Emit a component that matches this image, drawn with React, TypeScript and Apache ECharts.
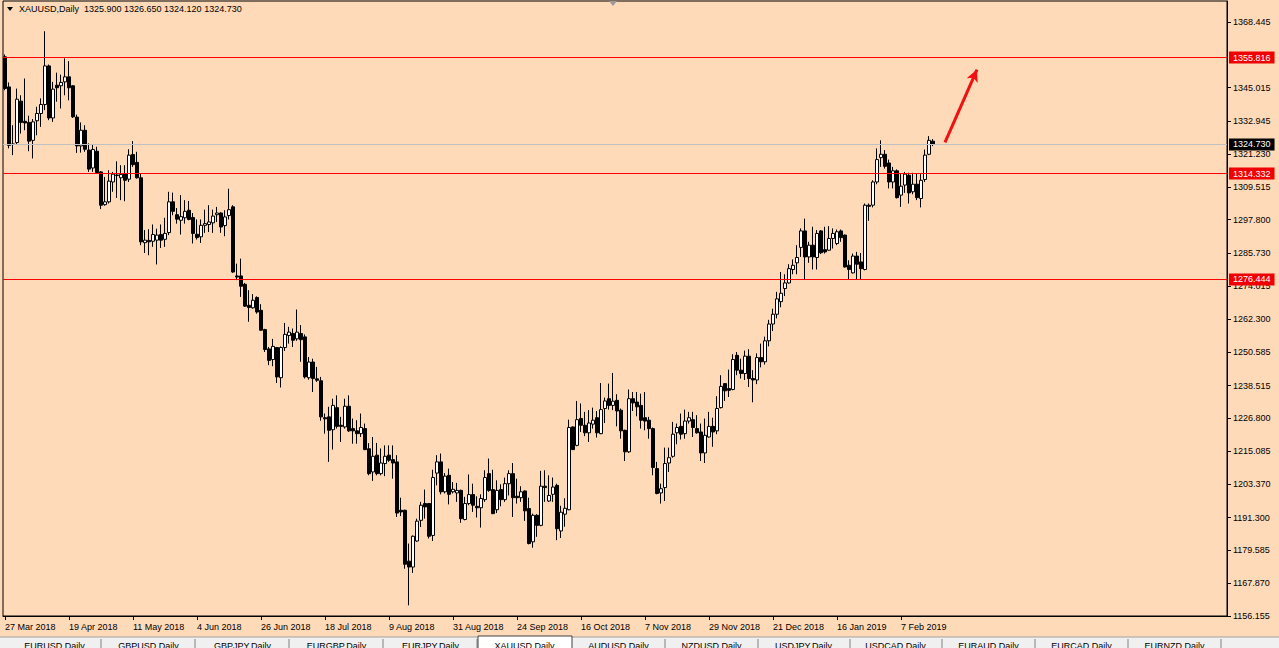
import React, { useEffect, useRef } from "react";
import * as echarts from "echarts";

const SYMBOL = "XAUUSD,Daily";
const FIRST_DATE = "2018-03-27";
const HOLIDAYS = ["2018-03-30", "2018-12-25", "2019-01-01"];
const TICK_LABELS = [
  "27 Mar 2018", "19 Apr 2018", "11 May 2018", "4 Jun 2018", "26 Jun 2018",
  "18 Jul 2018", "9 Aug 2018", "31 Aug 2018", "24 Sep 2018", "16 Oct 2018",
  "7 Nov 2018", "29 Nov 2018", "21 Dec 2018", "16 Jan 2019", "7 Feb 2019",
];
const LABEL_EVERY = 16;
const Y_MIN = 1156.085;
const Y_MAX = 1376.022;
const Y_TICKS = [
  1368.445, 1345.015, 1332.945, 1321.23, 1309.515, 1297.8, 1285.73, 1274.015,
  1262.3, 1250.585, 1238.515, 1226.8, 1215.085, 1203.37, 1191.3, 1179.585,
  1167.87, 1156.155,
];
const LEVELS = [1355.816, 1314.332, 1276.444];
const CURRENT_PRICE = 1324.73;
const ARROW = [
  [235, 1325.5],
  [243, 1351.5],
];
const TABS = [
  "EURUSD,Daily", "GBPUSD,Daily", "GBPJPY,Daily", "EURGBP,Daily", "EURJPY,Daily",
  "XAUUSD,Daily", "AUDUSD,Daily", "NZDUSD,Daily", "USDJPY,Daily", "USDCAD,Daily",
  "EURAUD,Daily", "EURCAD,Daily", "EURNZD,Daily",
];
const ACTIVE_TAB = 5;

const OPEN = [
  1356.05, 1345.3, 1324.9, 1325.4, 1340.2, 1333.0, 1332.6, 1326.2, 1333.2, 1335.8,
  1339.0, 1352.8, 1334.2, 1345.9, 1345.7, 1347.1, 1348.9, 1345.7, 1334.5, 1324.2,
  1329.8, 1322.7, 1316.3, 1322.3, 1314.9, 1303.2, 1304.2, 1311.3, 1313.6, 1312.8,
  1314.3, 1312.3, 1321.1, 1318.3, 1312.8, 1289.6, 1290.4, 1290.1, 1290.5, 1292.5,
  1290.8, 1293.2, 1304.2, 1299.6, 1297.6, 1298.5, 1301.2, 1298.6, 1292.6, 1291.7,
  1295.8, 1296.1, 1296.7, 1299.6, 1300.2, 1295.7, 1299.3, 1302.4, 1277.7, 1277.7,
  1274.7, 1267.2, 1266.3, 1270.0, 1265.4, 1258.5, 1251.6, 1247.8, 1252.1, 1241.3,
  1252.1, 1256.4, 1257.1, 1255.2, 1257.1, 1255.9, 1241.3, 1246.9, 1240.9, 1240.2,
  1227.0, 1227.3, 1222.7, 1230.6, 1224.3, 1223.7, 1231.1, 1223.1, 1222.3, 1221.3,
  1223.1, 1215.9, 1207.6, 1213.6, 1207.0, 1210.6, 1213.6, 1212.0, 1211.2, 1193.9,
  1193.9, 1175.7, 1173.6, 1182.9, 1190.3, 1196.3, 1196.3, 1184.9, 1207.2, 1211.2,
  1200.5, 1206.4, 1200.5, 1200.1, 1201.0, 1190.6, 1196.3, 1199.5, 1195.3, 1194.8,
  1197.7, 1207.0, 1201.3, 1194.1, 1201.3, 1197.7, 1203.4, 1207.0, 1198.9, 1198.4,
  1200.8, 1194.5, 1182.6, 1192.1, 1188.5, 1202.5, 1197.2, 1199.6, 1202.8, 1186.5,
  1192.5, 1194.1, 1223.7, 1217.1, 1226.7, 1224.3, 1221.6, 1224.7, 1227.0, 1221.3,
  1230.3, 1233.8, 1231.4, 1233.2, 1229.7, 1222.5, 1214.8, 1233.8, 1232.6, 1231.4,
  1227.0, 1226.1, 1223.1, 1208.8, 1200.1, 1202.0, 1210.8, 1213.2, 1221.6, 1223.9,
  1221.3, 1225.8, 1226.3, 1223.1, 1221.9, 1214.4, 1220.1, 1223.9, 1222.3, 1230.6,
  1239.2, 1237.4, 1237.1, 1249.3, 1244.0, 1242.8, 1249.0, 1241.0, 1240.5, 1248.5,
  1247.0, 1254.5, 1260.5, 1264.0, 1268.5, 1273.2, 1275.2, 1280.0, 1282.4, 1287.9,
  1293.8, 1284.5, 1288.7, 1284.3, 1293.8, 1287.1, 1286.9, 1291.1, 1289.3, 1293.8,
  1292.3, 1281.5, 1278.8, 1284.8, 1282.7, 1280.0, 1303.0, 1303.0, 1311.3, 1320.0,
  1321.2, 1318.1, 1311.3, 1315.3, 1306.6, 1310.2, 1313.7, 1307.8, 1310.5, 1305.4,
  1312.2, 1321.2, 1325.9,
];
const CLOSE = [
  1344.73, 1324.4, 1324.7, 1340.9, 1332.6, 1332.4, 1325.9, 1332.8, 1335.8, 1339.0,
  1352.8, 1334.2, 1344.5, 1345.0, 1346.9, 1348.9, 1345.0, 1334.6, 1324.2, 1329.8,
  1323.0, 1315.9, 1322.9, 1314.7, 1303.0, 1304.2, 1311.6, 1314.1, 1313.8, 1314.0,
  1311.9, 1320.9, 1317.5, 1312.8, 1289.9, 1290.5, 1289.9, 1292.5, 1292.3, 1290.5,
  1292.9, 1304.2, 1300.8, 1298.0, 1298.9, 1300.8, 1297.9, 1292.9, 1291.4, 1295.8,
  1296.4, 1297.0, 1299.1, 1300.2, 1295.2, 1298.8, 1301.4, 1279.1, 1277.3, 1274.0,
  1266.9, 1266.4, 1269.0, 1264.8, 1258.3, 1251.4, 1247.5, 1252.5, 1241.6, 1252.1,
  1256.8, 1257.6, 1254.7, 1257.6, 1254.9, 1241.6, 1246.9, 1241.0, 1240.4, 1227.3,
  1226.6, 1222.5, 1231.4, 1223.9, 1223.9, 1231.1, 1222.3, 1222.3, 1221.3, 1223.5,
  1215.6, 1207.0, 1213.2, 1207.0, 1210.8, 1213.2, 1211.8, 1210.8, 1192.9, 1193.3,
  1174.6, 1173.6, 1184.6, 1190.0, 1195.7, 1195.1, 1184.6, 1205.6, 1211.2, 1200.5,
  1206.1, 1199.6, 1201.4, 1201.0, 1190.9, 1196.3, 1199.5, 1195.7, 1194.8, 1198.1,
  1205.6, 1201.0, 1192.7, 1201.0, 1197.7, 1203.4, 1207.0, 1198.4, 1198.4, 1200.5,
  1193.7, 1182.0, 1192.1, 1188.5, 1202.5, 1202.0, 1199.2, 1202.2, 1187.3, 1193.2,
  1194.6, 1223.5, 1215.6, 1226.3, 1224.3, 1221.6, 1225.1, 1226.1, 1221.6, 1229.9,
  1233.0, 1231.4, 1232.9, 1229.4, 1222.3, 1214.8, 1233.8, 1232.3, 1230.9, 1226.1,
  1225.8, 1223.1, 1209.2, 1199.9, 1201.6, 1210.6, 1212.7, 1221.1, 1223.5, 1221.1,
  1225.8, 1227.0, 1223.5, 1221.6, 1214.4, 1220.7, 1223.9, 1221.9, 1230.3, 1238.2,
  1236.6, 1236.8, 1247.8, 1244.0, 1242.8, 1249.0, 1241.0, 1240.5, 1248.5, 1247.0,
  1254.5, 1260.5, 1264.0, 1269.5, 1271.5, 1275.2, 1280.3, 1281.5, 1284.3, 1293.8,
  1284.5, 1288.7, 1284.5, 1292.9, 1286.0, 1286.3, 1291.1, 1292.9, 1293.5, 1291.4,
  1280.9, 1280.0, 1284.8, 1281.9, 1280.3, 1303.0, 1302.6, 1311.3, 1319.3, 1321.2,
  1316.9, 1311.3, 1315.3, 1305.7, 1309.8, 1314.1, 1307.4, 1310.5, 1305.7, 1311.9,
  1320.9, 1326.2, 1324.73,
];
const HIGH = [
  1356.9, 1346.9, 1331.6, 1344.7, 1342.3, 1348.3, 1335.0, 1333.8, 1338.2, 1341.2,
  1365.2, 1353.3, 1347.1, 1350.4, 1349.7, 1355.5, 1354.5, 1345.9, 1335.4, 1332.6,
  1331.6, 1325.1, 1324.7, 1323.9, 1315.2, 1313.1, 1315.5, 1314.9, 1318.7, 1317.3,
  1317.3, 1323.0, 1325.9, 1322.1, 1314.3, 1294.1, 1294.4, 1296.1, 1294.6, 1296.1,
  1298.5, 1307.8, 1307.5, 1302.0, 1306.6, 1304.8, 1304.5, 1300.2, 1297.9, 1297.9,
  1301.4, 1303.0, 1301.4, 1302.4, 1300.5, 1301.2, 1308.9, 1303.0, 1282.1, 1283.9,
  1275.2, 1272.6, 1271.2, 1270.4, 1267.6, 1258.8, 1252.3, 1255.2, 1252.3, 1252.5,
  1260.9, 1259.5, 1258.9, 1265.7, 1260.1, 1256.8, 1248.7, 1248.1, 1245.2, 1241.6,
  1228.5, 1230.9, 1233.8, 1235.0, 1227.3, 1233.8, 1235.0, 1226.7, 1226.1, 1228.5,
  1224.9, 1217.9, 1220.1, 1218.0, 1216.0, 1217.1, 1217.1, 1217.1, 1213.6, 1198.4,
  1194.1, 1182.0, 1184.9, 1190.9, 1196.9, 1201.3, 1196.5, 1208.4, 1213.6, 1214.2,
  1207.2, 1208.8, 1204.0, 1203.7, 1201.3, 1198.7, 1206.7, 1203.4, 1198.9, 1199.6,
  1208.2, 1212.4, 1208.4, 1204.6, 1203.2, 1205.6, 1208.2, 1210.8, 1205.2, 1202.5,
  1201.0, 1198.4, 1192.7, 1192.5, 1208.0, 1208.2, 1206.4, 1205.6, 1203.4, 1195.5,
  1198.2, 1226.3, 1223.9, 1233.0, 1232.1, 1229.1, 1229.7, 1230.6, 1229.4, 1239.4,
  1234.2, 1239.2, 1243.0, 1235.4, 1230.3, 1222.7, 1237.1, 1236.2, 1236.2, 1235.6,
  1236.2, 1227.3, 1223.5, 1211.2, 1203.4, 1216.3, 1216.3, 1225.5, 1224.9, 1228.5,
  1229.9, 1229.1, 1229.1, 1227.9, 1224.9, 1226.7, 1229.1, 1227.0, 1234.7, 1242.2,
  1239.4, 1244.2, 1249.7, 1250.5, 1248.1, 1251.0, 1251.5, 1244.0, 1250.0, 1253.5,
  1256.0, 1262.0, 1266.0, 1272.0, 1279.1, 1278.3, 1281.9, 1283.6, 1288.7, 1294.7,
  1298.2, 1289.9, 1295.3, 1294.1, 1294.1, 1295.3, 1295.5, 1294.7, 1294.3, 1294.3,
  1292.5, 1283.3, 1285.7, 1286.3, 1285.9, 1303.6, 1303.6, 1311.9, 1323.3, 1326.2,
  1322.7, 1319.3, 1316.7, 1315.8, 1314.1, 1314.9, 1314.6, 1314.6, 1314.3, 1314.1,
  1322.9, 1327.7, 1326.65,
];
const LOW = [
  1344.1, 1323.3, 1320.9, 1324.5, 1328.6, 1329.8, 1322.3, 1319.7, 1328.0, 1331.0,
  1337.0, 1333.4, 1332.8, 1340.0, 1337.6, 1342.3, 1340.5, 1334.2, 1321.7, 1321.8,
  1322.1, 1314.9, 1314.9, 1314.3, 1301.6, 1302.8, 1303.6, 1307.8, 1305.6, 1304.8,
  1304.4, 1311.3, 1316.7, 1312.5, 1288.7, 1285.9, 1285.1, 1288.1, 1281.8, 1287.7,
  1288.1, 1292.3, 1299.4, 1296.4, 1292.5, 1296.4, 1297.6, 1289.3, 1290.7, 1289.5,
  1293.1, 1293.4, 1293.1, 1297.0, 1293.1, 1291.9, 1297.9, 1278.8, 1276.2, 1270.2,
  1266.6, 1261.3, 1266.0, 1264.2, 1258.0, 1250.5, 1245.8, 1245.4, 1239.4, 1237.8,
  1250.9, 1253.5, 1252.3, 1254.5, 1247.0, 1241.0, 1240.6, 1236.2, 1239.8, 1225.9,
  1221.3, 1211.2, 1215.6, 1223.1, 1218.3, 1223.1, 1221.9, 1217.7, 1217.7, 1220.1,
  1215.4, 1206.4, 1204.4, 1206.4, 1206.4, 1206.1, 1211.2, 1205.2, 1191.5, 1191.8,
  1173.0, 1159.9, 1171.5, 1182.6, 1187.9, 1190.9, 1183.8, 1182.9, 1202.8, 1199.6,
  1199.9, 1196.0, 1199.9, 1196.9, 1189.4, 1190.3, 1195.7, 1193.3, 1191.3, 1187.7,
  1196.9, 1200.5, 1192.5, 1192.9, 1195.3, 1196.9, 1199.2, 1191.5, 1196.3, 1196.9,
  1190.1, 1181.7, 1180.5, 1184.4, 1188.2, 1196.9, 1196.9, 1196.9, 1183.2, 1184.0,
  1188.0, 1193.9, 1215.4, 1216.8, 1221.9, 1220.4, 1218.3, 1223.1, 1219.9, 1221.1,
  1225.1, 1229.9, 1229.7, 1223.9, 1219.5, 1211.5, 1214.4, 1229.4, 1227.5, 1223.1,
  1222.5, 1219.5, 1206.4, 1199.6, 1196.3, 1197.2, 1207.6, 1212.7, 1217.5, 1219.2,
  1219.5, 1224.9, 1220.1, 1221.3, 1211.5, 1210.8, 1219.9, 1216.6, 1221.1, 1230.3,
  1233.0, 1234.4, 1236.8, 1242.2, 1241.0, 1240.5, 1238.0, 1232.5, 1239.0, 1245.0,
  1246.0, 1252.5, 1258.0, 1262.5, 1266.5, 1270.5, 1275.0, 1278.3, 1278.3, 1284.5,
  1276.4, 1282.4, 1280.0, 1280.0, 1285.5, 1285.7, 1286.7, 1287.5, 1288.7, 1289.9,
  1280.7, 1276.4, 1278.6, 1276.4, 1276.4, 1279.7, 1297.4, 1302.2, 1310.5, 1316.7,
  1316.1, 1309.0, 1309.0, 1305.4, 1302.4, 1307.4, 1303.6, 1306.9, 1304.8, 1302.2,
  1311.3, 1320.9, 1324.12,
];

const BG = "#FFDAB9";
const RED = "#ff0000";
const FONT = '"Liberation Sans", Arial, sans-serif';
const TOTAL_SLOTS = 306;

function tradingDates(start: string, count: number): string[] {
  const out: string[] = [];
  const d = new Date(start + "T00:00:00Z");
  while (out.length < count) {
    const day = d.getUTCDay();
    const iso = d.toISOString().slice(0, 10);
    if (day !== 0 && day !== 6 && !HOLIDAYS.includes(iso)) out.push(iso);
    d.setUTCDate(d.getUTCDate() + 1);
  }
  return out;
}

export default function App() {
  const ref = useRef<HTMLDivElement>(null);

  useEffect(() => {
    if (!ref.current) return;
    const chart = echarts.init(ref.current, null, { renderer: "svg" });
    const n = OPEN.length;
    const dates = tradingDates(FIRST_DATE, n);
    const cats: string[] = dates.slice();
    while (cats.length < TOTAL_SLOTS) cats.push("");
    const candles = OPEN.map((o, i) => [o, CLOSE[i], LOW[i], HIGH[i]]);
    const showIdx = (i: number) => i % LABEL_EVERY === 0 && i / LABEL_EVERY < TICK_LABELS.length;
    const last = n - 1;
    const header = `${SYMBOL}  ${OPEN[last].toFixed(3)} ${HIGH[last].toFixed(3)} ${LOW[last].toFixed(3)} ${CLOSE[last].toFixed(3)}`;

    const levelLabel = (v: number, bg: string) => ({
      show: true,
      position: "end",
      distance: 2,
      formatter: v.toFixed(3),
      color: "#ffffff",
      backgroundColor: bg,
      padding: [2, 4, 1, 4],
      fontSize: 9,
      fontFamily: FONT,
    });

    const tabLeft = [8, 102, 196, 290, 384, 478, 572, 665, 757, 849, 942, 1035, 1128];
    const tabW = 93;
    const tabGraphics: any[] = [
      { type: "rect", shape: { x: 0, y: 637, width: 1279, height: 11 }, style: { fill: "#f0f0f0" }, z: 100 },
      { type: "line", shape: { x1: 0, y1: 637, x2: 1279, y2: 637 }, style: { stroke: "#a0a0a0", lineWidth: 1 }, z: 101 },
    ];
    TABS.forEach((t, i) => {
      const x = tabLeft[i];
      if (i === ACTIVE_TAB) {
        tabGraphics.push({
          type: "rect",
          shape: { x: x, y: 636, width: tabW + 1, height: 13 },
          style: { fill: "#ffffff", stroke: "#404040", lineWidth: 1 },
          z: 102,
        });
      } else {
        tabGraphics.push({
          type: "line",
          shape: { x1: x + tabW, y1: 639, x2: x + tabW, y2: 648 },
          style: { stroke: "#808080", lineWidth: 1 },
          z: 101,
        });
      }
      tabGraphics.push({
        type: "text",
        x: x + tabW / 2,
        y: 641,
        style: {
          text: t,
          fill: "#000",
          fontSize: 9,
          fontFamily: FONT,
          align: "center",
          verticalAlign: "top",
        },
        z: 103,
      });
    });

    chart.setOption({
      animation: false,
      backgroundColor: BG,
      textStyle: { fontFamily: FONT },
      grid: {
        left: 3,
        right: 52,
        top: 1,
        bottom: 32,
        show: true,
        borderColor: "#000",
        borderWidth: 1,
        backgroundColor: "transparent",
      },
      xAxis: {
        type: "category",
        data: cats,
        boundaryGap: true,
        axisLine: { show: true, lineStyle: { color: "#000", width: 1 } },
        axisTick: {
          show: true,
          alignWithLabel: true,
          interval: (i: number) => showIdx(i),
          length: 4,
          lineStyle: { color: "#000" },
        },
        axisLabel: {
          interval: (i: number) => showIdx(i),
          formatter: (_v: string, i: number) => (showIdx(i) ? TICK_LABELS[i / LABEL_EVERY] : ""),
          align: "left",
          color: "#000",
          fontSize: 9,
          fontFamily: FONT,
          margin: 6,
          hideOverlap: false,
        },
        splitLine: { show: false },
      },
      yAxis: {
        type: "value",
        position: "right",
        min: Y_MIN,
        max: Y_MAX,
        axisLine: { show: true, lineStyle: { color: "#000" } },
        axisTick: { show: true, length: 4, customValues: Y_TICKS, lineStyle: { color: "#000" } },
        axisLabel: {
          customValues: Y_TICKS,
          formatter: (v: number) => v.toFixed(3),
          color: "#000",
          fontSize: 9,
          fontFamily: FONT,
          margin: 6,
        },
        splitLine: { show: false },
      },
      series: [
        {
          type: "candlestick",
          data: candles,
          barWidth: 3,
          itemStyle: {
            color: "#ffffff",
            color0: "#000000",
            borderColor: "#000000",
            borderColor0: "#000000",
            borderWidth: 1,
          },
        },
        {
          type: "line",
          data: [],
          color: RED,
          silent: true,
          markLine: {
            silent: true,
            symbol: ["none", "none"],
            precision: 3,
            animation: false,
            lineStyle: { color: RED, opacity: 1, width: 1, type: "solid" },
            data: [
              ...LEVELS.map((v) => ({
                yAxis: v,
                lineStyle: { color: RED, opacity: 1, width: 1, type: "solid" },
                label: levelLabel(v, "#f00000"),
              })),
              {
                yAxis: CURRENT_PRICE,
                lineStyle: { color: "#c0c0c0", opacity: 1, width: 1, type: "solid" },
                label: levelLabel(CURRENT_PRICE, "#000000"),
              },
              [
                {
                  coord: ARROW[0],
                  symbol: "none",
                  lineStyle: { color: "#f01010", opacity: 1, width: 3, type: "solid" },
                  label: { show: false },
                },
                { coord: ARROW[1], symbol: "arrow", symbolSize: [9, 12] },
              ],
            ],
          },
        },
      ],
      graphic: [
        {
          type: "polygon",
          shape: { points: [[7, 7], [13, 7], [10, 11]] },
          style: { fill: "#000" },
          z: 100,
        },
        {
          type: "text",
          x: 19,
          y: 9,
          style: { text: header, fill: "#000", fontSize: 9, fontFamily: FONT, verticalAlign: "middle" },
          z: 100,
        },
        {
          type: "polygon",
          shape: { points: [[609, 1], [617, 1], [613, 6]] },
          style: { fill: "#9a9a9a" },
          z: 100,
        },
        ...tabGraphics,
      ],
    });

    return () => chart.dispose();
  }, []);

  return (
    <div
      ref={ref}
      style={{ position: "fixed", left: 0, top: 0, width: 1279, height: 648, background: BG }}
    />
  );
}
